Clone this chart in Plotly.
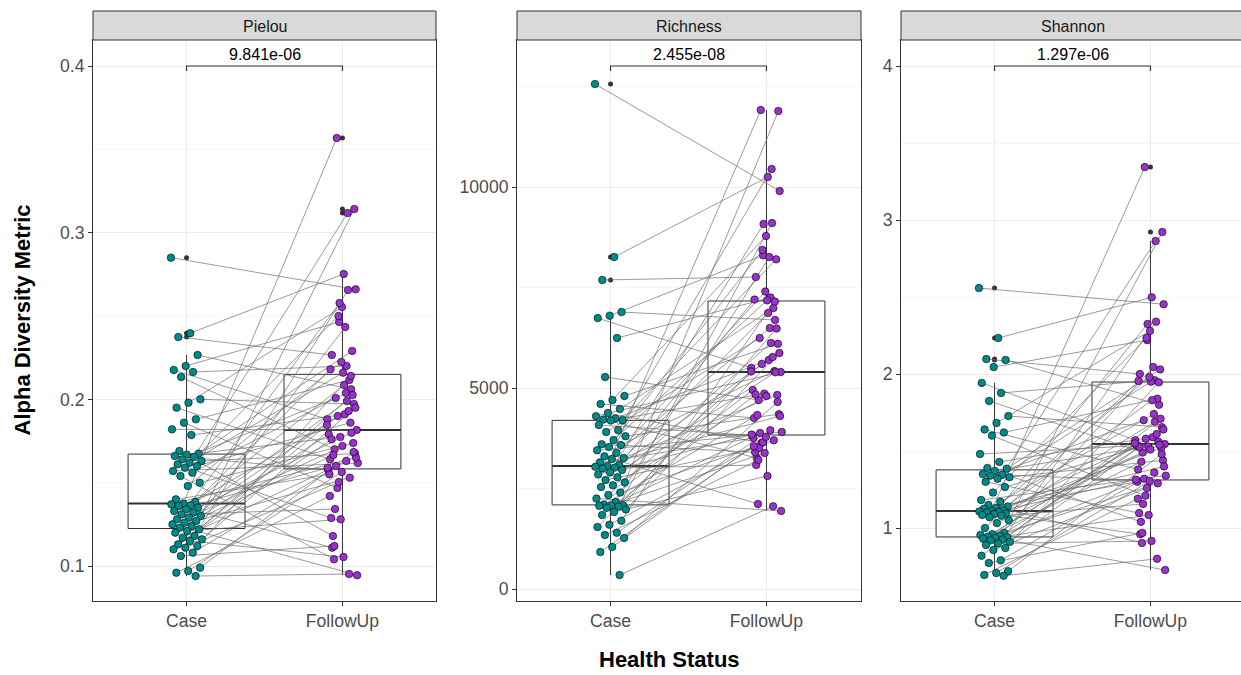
import numpy as np
import plotly.graph_objects as go

# ---------------------------------------------------------------- data
groups = ["Case", "FollowUp"]
metrics = ["Pielou", "Richness", "Shannon"]
p_labels = ["9.841e-06", "2.455e-08", "1.297e-06"]

# Case values per metric, listed from highest to lowest
pielou_case = [
    0.2850, 0.2397, 0.2374, 0.2266, 0.2200, 0.2176, 0.2164, 0.2134, 0.2000, 0.1980,
    0.1950, 0.1880, 0.1860, 0.1820, 0.1786, 0.1690, 0.1675, 0.1668, 0.1660, 0.1655,
    0.1640, 0.1630, 0.1620, 0.1610, 0.1600, 0.1590, 0.1570, 0.1560, 0.1540, 0.1500,
    0.1480, 0.1400, 0.1385, 0.1375, 0.1370, 0.1365, 0.1360, 0.1350, 0.1340, 0.1330,
    0.1320, 0.1310, 0.1300, 0.1290, 0.1280, 0.1270, 0.1260, 0.1250, 0.1240, 0.1230,
    0.1220, 0.1210, 0.1200, 0.1180, 0.1170, 0.1160, 0.1150, 0.1130, 0.1120, 0.1110,
    0.1100, 0.1080, 0.1060, 0.0990, 0.0970, 0.0960, 0.0940,
]
richness_case = [
    12562, 8259, 7687, 6890, 6800, 6740, 6244, 5274, 4801, 4700,
    4602, 4478, 4378, 4300, 4240, 4215, 4200, 4190, 4080, 3950,
    3905, 3800, 3706, 3600, 3582, 3532, 3450, 3383, 3300, 3259,
    3234, 3150, 3085, 3060, 3040, 3020, 3000, 2960, 2900, 2850,
    2780, 2711, 2650, 2580, 2537, 2400, 2338, 2250, 2164, 2100,
    2085, 2080, 2070, 2050, 2020, 1980, 1915, 1841, 1700, 1600,
    1542, 1400, 1343, 1269, 1045, 920, 348,
]
shannon_case = [
    2.558, 2.234, 2.097, 2.091, 2.045, 1.942, 1.877, 1.825, 1.727, 1.682,
    1.640, 1.620, 1.600, 1.480, 1.429, 1.390, 1.385, 1.370, 1.350, 1.345,
    1.340, 1.330, 1.320, 1.300, 1.266, 1.230, 1.182, 1.170, 1.150, 1.140,
    1.130, 1.125, 1.115, 1.110, 1.108, 1.104, 1.100, 1.095, 1.090, 1.085,
    1.080, 1.070, 1.050, 1.032, 1.000, 0.968, 0.960, 0.955, 0.950, 0.944,
    0.940, 0.935, 0.930, 0.925, 0.920, 0.910, 0.900, 0.890, 0.870, 0.857,
    0.820, 0.790, 0.773, 0.720, 0.708, 0.695, 0.690,
]

# FollowUp values per metric, listed from highest to lowest
pielou_followup_ranked = [
    0.3568, 0.3142, 0.3118, 0.2752, 0.2660, 0.2656, 0.2578, 0.2554, 0.2500, 0.2464,
    0.2434, 0.2290, 0.2266, 0.2224, 0.2200, 0.2180, 0.2160, 0.2140, 0.2116, 0.2086,
    0.2060, 0.2038, 0.2026, 0.2008, 0.1990, 0.1972, 0.1950, 0.1930, 0.1910, 0.1900,
    0.1880, 0.1860, 0.1846, 0.1816, 0.1800, 0.1790, 0.1774, 0.1760, 0.1738, 0.1720,
    0.1700, 0.1684, 0.1675, 0.1666, 0.1650, 0.1640, 0.1630, 0.1618, 0.1600, 0.1590,
    0.1575, 0.1564, 0.1550, 0.1530, 0.1504, 0.1468, 0.1420, 0.1342, 0.1288, 0.1280,
    0.1180, 0.1120, 0.1110, 0.1054, 0.1040, 0.0952, 0.0945,
]
richness_followup_ranked = [
    11915, 11890, 10448, 10249, 9900, 9104, 9080, 8781, 8433, 8300,
    8259, 8200, 7761, 7400, 7250, 7200, 7180, 7150, 6990, 6866,
    6692, 6493, 6480, 6244, 6119, 6100, 5870, 5771, 5697, 5600,
    5500, 5420, 5410, 5398, 5390, 4950, 4860, 4840, 4826, 4800,
    4701, 4652, 4350, 4328, 4303, 4254, 3950, 3905, 3881, 3842,
    3820, 3780, 3756, 3700, 3650, 3632, 3550, 3507, 3400, 3383,
    3259, 3209, 3085, 2811, 2114, 2060, 1940,
]
shannon_followup_ranked = [
    3.344, 2.922, 2.864, 2.498, 2.453, 2.340, 2.325, 2.280, 2.234, 2.220,
    2.045, 2.030, 2.000, 1.980, 1.960, 1.955, 1.950, 1.946, 1.840, 1.830,
    1.800, 1.740, 1.710, 1.700, 1.690, 1.655, 1.640, 1.610, 1.590, 1.580,
    1.570, 1.560, 1.550, 1.545, 1.540, 1.535, 1.530, 1.526, 1.520, 1.510,
    1.490, 1.480, 1.440, 1.430, 1.400, 1.380, 1.360, 1.340, 1.320, 1.314,
    1.310, 1.305, 1.300, 1.290, 1.260, 1.210, 1.190, 1.156, 1.097, 1.084,
    1.040, 0.968, 0.960, 0.916, 0.903, 0.800, 0.727,
]

# For each subject (in the order of the Case lists) the rank of its FollowUp value
followup_rank = [
    4, 3, 12, 20, 9, 30, 14, 40, 25, 7,
    45, 18, 55, 33, 28, 60, 11, 36, 50, 2,
    23, 42, 16, 58, 31, 8, 47, 21, 64, 38,
    13, 52, 27, 0, 44, 19, 62, 34, 6, 49,
    24, 57, 1, 39, 15, 53, 29, 66, 10, 43,
    22, 59, 35, 5, 48, 26, 63, 37, 17, 54,
    32, 46, 61, 41, 51, 56, 65,
]

# Significance bracket height per facet (data units)
bracket_levels = [0.400, 13010, 4.0]

case_values = [pielou_case, richness_case, shannon_case]
followup_values = [
    [ranked[k] for k in followup_rank]
    for ranked in (pielou_followup_ranked, richness_followup_ranked, shannon_followup_ranked)
]

# ---------------------------------------------------------------- styling
W, H = 1241, 675
FONT = "Liberation Sans, Arial, Helvetica, sans-serif"
TEAL = "#008B8B"
PURPLE = "#9932CC"
DARK = "#333333"
GRID = "#EBEBEB"
GRID_MINOR = "#F2F2F2"
TICK_GREY = "#4D4D4D"
BOX_WIDTH = 0.75
JITTER = 0.10
TICK_SIZE = 17.6
TITLE_SIZE = 22

panel_px = [(93, 436), (517, 861), (901, 1241)]   # left/right pixel edges
full_right_px = 1245                               # last facet runs past the page edge
plot_top_px, plot_bottom_px = 40, 601
strip_top_px = 11
units_per_px = 2.2 / (436 - 93)

y_ranges = [(0.079, 0.4156), (-298.5, 13657), (0.526, 4.169)]
y_major = [[0.1, 0.2, 0.3, 0.4], [0, 5000, 10000], [1, 2, 3, 4]]
y_minor = [0.05, 2500, 0.5]
y_formats = [".1f", "d", "d"]


def px_to_paper_x(px):
    return px / W


def px_to_paper_y(py):
    return (H - py) / H


def jitter(n, phase):
    return [(((i + phase) * 0.6180339887) % 1.0 - 0.5) * 2 * JITTER for i in range(n)]


def box_stats(values):
    v = np.asarray(values, dtype=float)
    q1, med, q3 = np.percentile(v, [25, 50, 75])
    iqr = q3 - q1
    lo_lim, hi_lim = q1 - 1.5 * iqr, q3 + 1.5 * iqr
    inside = v[(v >= lo_lim) & (v <= hi_lim)]
    outliers = v[(v < lo_lim) | (v > hi_lim)]
    return q1, med, q3, inside.min(), inside.max(), outliers


fig = go.Figure()
layout = dict(
    width=W, height=H, autosize=False,
    margin=dict(l=0, r=0, t=0, b=0),
    paper_bgcolor="white", plot_bgcolor="white",
    showlegend=False, hovermode=False,
    font=dict(family=FONT, color=TICK_GREY),
)
shapes, annotations = [], []
y_dom = [px_to_paper_y(plot_bottom_px), px_to_paper_y(plot_top_px)]

for idx, metric in enumerate(metrics):
    sfx = "" if idx == 0 else str(idx + 1)
    xa, ya = "x" + sfx, "y" + sfx
    left_px, right_px = panel_px[idx]
    x_hi = 0.4 + (right_px - left_px) * units_per_px
    last = idx == len(metrics) - 1

    case = case_values[idx]
    follow = followup_values[idx]
    series = [case, follow]

    # boxes (drawn first so lines and points sit above them)
    stats = [box_stats(s) for s in series]
    for g, st in enumerate(stats):
        q1, med, q3, lo, hi, _ = st
        fig.add_trace(go.Box(
            x=[g + 1], q1=[q1], median=[med], q3=[q3], lowerfence=[lo], upperfence=[hi],
            width=BOX_WIDTH, whiskerwidth=0, orientation="v",
            fillcolor="white", line=dict(color=DARK, width=1),
            boxpoints=False, hoverinfo="skip", xaxis=xa, yaxis=ya,
        ))

    # thicker median bars and outliers at the group centre
    mx, my, ox, oy = [], [], [], []
    for g, st in enumerate(stats):
        mx += [g + 1 - BOX_WIDTH / 2, g + 1 + BOX_WIDTH / 2, None]
        my += [st[1], st[1], None]
        ox += [g + 1] * len(st[5])
        oy += list(st[5])
    fig.add_trace(go.Scatter(x=mx, y=my, mode="lines", line=dict(color=DARK, width=2),
                             hoverinfo="skip", xaxis=xa, yaxis=ya))
    fig.add_trace(go.Scatter(x=ox, y=oy, mode="markers",
                             marker=dict(color=DARK, size=5, line=dict(width=0)),
                             hoverinfo="skip", xaxis=xa, yaxis=ya))

    # paired lines between jittered points
    n = len(case)
    jx_case = [1 + j for j in jitter(n, 0)]
    jx_follow = [2 + j for j in jitter(n, 29)]
    lx, ly = [], []
    for i in range(n):
        lx += [jx_case[i], jx_follow[i], None]
        ly += [case[i], follow[i], None]
    fig.add_trace(go.Scatter(x=lx, y=ly, mode="lines",
                             line=dict(color="rgba(105,105,105,0.85)", width=0.8),
                             hoverinfo="skip", xaxis=xa, yaxis=ya))

    # jittered points
    for xs, ys, col in ((jx_case, case, TEAL), (jx_follow, follow, PURPLE)):
        fig.add_trace(go.Scatter(x=xs, y=ys, mode="markers",
                                 marker=dict(color=col, size=7.5,
                                             line=dict(color="black", width=0.6)),
                                 hoverinfo="skip", xaxis=xa, yaxis=ya))

    # significance bracket
    y0, y1 = y_ranges[idx]
    tip = (y1 - y0) * 0.009
    b = bracket_levels[idx]
    fig.add_trace(go.Scatter(x=[1, 1, 2, 2], y=[b - tip, b, b, b - tip], mode="lines",
                             line=dict(color=DARK, width=1.2), hoverinfo="skip",
                             xaxis=xa, yaxis=ya))
    annotations.append(dict(x=1.5, y=b, xref=xa, yref=ya, text=p_labels[idx],
                            showarrow=False, yanchor="bottom", yshift=1,
                            font=dict(size=16, color="black", family=FONT)))

    # axes
    x_dom = [px_to_paper_x(left_px), px_to_paper_x(right_px)]
    layout["xaxis" + sfx] = dict(
        domain=x_dom, range=[0.4, x_hi], anchor=ya,
        tickmode="array", tickvals=[1, 2], ticktext=groups,
        showgrid=True, gridcolor=GRID, gridwidth=1, zeroline=False,
        showline=True, linecolor=DARK, linewidth=1, mirror=True,
        ticks="outside", ticklen=4, tickcolor=DARK, tickwidth=1,
        tickfont=dict(size=TICK_SIZE, color=TICK_GREY, family=FONT),
    )
    layout["yaxis" + sfx] = dict(
        domain=y_dom, range=list(y_ranges[idx]), anchor=xa,
        tickmode="array", tickvals=y_major[idx], tickformat=y_formats[idx],
        showgrid=True, gridcolor=GRID, gridwidth=1, zeroline=False,
        minor=dict(dtick=y_minor[idx], tick0=0, showgrid=True,
                   gridcolor=GRID_MINOR, gridwidth=0.6, ticks=""),
        showline=True, linecolor=DARK, linewidth=1, mirror=not last,
        ticks="outside", ticklen=4, tickcolor=DARK, tickwidth=1,
        tickfont=dict(size=TICK_SIZE, color=TICK_GREY, family=FONT),
    )

    # facet strip
    strip_right = 1.01 if last else x_dom[1]
    shapes.append(dict(type="rect", xref="paper", yref="paper",
                       x0=x_dom[0], x1=strip_right,
                       y0=px_to_paper_y(plot_top_px), y1=px_to_paper_y(strip_top_px),
                       fillcolor="#D9D9D9", line=dict(color=DARK, width=1), layer="above"))
    centre_px = (left_px + (full_right_px if last else right_px)) / 2
    annotations.append(dict(x=px_to_paper_x(centre_px),
                            y=px_to_paper_y((plot_top_px + strip_top_px) / 2 + 1),
                            xref="paper", yref="paper", text=metric, showarrow=False,
                            xanchor="center", yanchor="middle",
                            font=dict(size=16, color="#1A1A1A", family=FONT)))

# axis titles
annotations.append(dict(x=px_to_paper_x(22), y=px_to_paper_y((plot_top_px + plot_bottom_px) / 2),
                        xref="paper", yref="paper", text="<b>Alpha Diversity Metric</b>",
                        textangle=-90, showarrow=False, xanchor="center", yanchor="middle",
                        font=dict(size=TITLE_SIZE, color="black", family=FONT)))
annotations.append(dict(x=px_to_paper_x((93 + full_right_px) / 2), y=px_to_paper_y(674),
                        xref="paper", yref="paper", text="<b>Health Status</b>",
                        showarrow=False, xanchor="center", yanchor="bottom",
                        font=dict(size=TITLE_SIZE, color="black", family=FONT)))

layout["shapes"] = shapes
layout["annotations"] = annotations
fig.update_layout(**layout)

fig.write_html("out.html", config={"displayModeBar": False, "staticPlot": True})
